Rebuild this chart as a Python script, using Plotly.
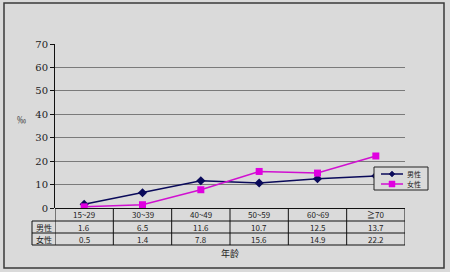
import plotly.graph_objects as go

categories = ["15~29", "30~39", "40~49", "50~59", "60~69", "≧70"]
male = [1.6, 6.5, 11.6, 10.7, 12.5, 13.7]
female = [0.5, 1.4, 7.8, 15.6, 14.9, 22.2]
series_names = ["男性", "女性"]
series_colors = ["#0a0a5a", "#e000e0"]
y_ticks = [0, 10, 20, 30, 40, 50, 60, 70]

W, H = 450, 272
L, R, T, B = 55, 45, 44, 64
PH = H - T - B  # plot height px
PW = W - L - R

def py(px):  # pixel y -> paper
    return (H - B - px) / PH

def pxx(px):  # pixel x -> paper
    return (px - L) / PW

FONT = "Noto Sans CJK SC, DejaVu Serif, serif"
x_idx = list(range(len(categories)))

fig = go.Figure()
fig.add_trace(go.Scatter(x=x_idx, y=male, name=series_names[0], mode="lines+markers",
                         line=dict(color=series_colors[0], width=1.5),
                         marker=dict(symbol="diamond", size=7, color=series_colors[0]),
                         showlegend=False))
fig.add_trace(go.Scatter(x=x_idx, y=female, name=series_names[1], mode="lines+markers",
                         line=dict(color="#d010d0", width=1.5),
                         marker=dict(symbol="square", size=7, color=series_colors[1]),
                         showlegend=False))

shapes = []
# outer border
shapes.append(dict(type="rect", xref="paper", yref="paper",
                   x0=pxx(4), x1=pxx(444), y0=py(268), y1=py(3),
                   line=dict(color="#3a3a3a", width=1.5)))
# table lines
row_lines = [221, 233, 245]
for ry in row_lines:
    shapes.append(dict(type="line", xref="paper", yref="paper",
                       x0=pxx(32), x1=1, y0=py(ry), y1=py(ry),
                       line=dict(color="#111", width=1)))
shapes.append(dict(type="line", xref="paper", yref="paper",
                   x0=pxx(32), x1=pxx(32), y0=py(221), y1=py(245),
                   line=dict(color="#111", width=1)))
for i in range(len(categories) + 1):
    xb = i - 0.5
    shapes.append(dict(type="line", xref="x", yref="paper",
                       x0=xb, x1=xb, y0=0, y1=py(245),
                       line=dict(color="#111", width=1)))

# legend (drawn as layout decoration)
shapes.append(dict(type="rect", xref="paper", yref="paper",
                   x0=pxx(374), x1=pxx(428), y0=py(190), y1=py(167),
                   fillcolor="#dadada", line=dict(color="#222", width=1), layer="above"))
leg_rows = [174, 184]
for k, ry in enumerate(leg_rows):
    col = series_colors[k] if k == 0 else "#d010d0"
    shapes.append(dict(type="line", xref="paper", yref="paper",
                       x0=pxx(381), x1=pxx(403), y0=py(ry), y1=py(ry),
                       line=dict(color=col, width=1.5), layer="above"))
cx = 392
# diamond
shapes.append(dict(type="path", xref="paper", yref="paper", layer="above",
                   path=f"M {pxx(cx-3)} {py(174)} L {pxx(cx)} {py(171)} L {pxx(cx+3)} {py(174)} L {pxx(cx)} {py(177)} Z",
                   fillcolor=series_colors[0], line=dict(color=series_colors[0], width=0.5)))
# square
shapes.append(dict(type="rect", xref="paper", yref="paper", layer="above",
                   x0=pxx(cx-3), x1=pxx(cx+3), y0=py(187), y1=py(181),
                   fillcolor=series_colors[1], line=dict(color=series_colors[1], width=0.5)))

annotations = []
def ann(x, y, text, size=8, xref="paper", color="#222"):
    annotations.append(dict(x=x, y=y, xref=xref, yref="paper", text=text, showarrow=False,
                            xanchor="center", yanchor="middle",
                            font=dict(size=size, color=color, family=FONT)))

for i, c in enumerate(categories):
    ann(i, py(214.5), c, xref="x")
    ann(i, py(227), f"{male[i]:.1f}", xref="x")
    ann(i, py(239), f"{female[i]:.1f}", xref="x")
ann(pxx(43.5), py(227), series_names[0])
ann(pxx(43.5), py(239), series_names[1])
ann(pxx(230), py(253), "年龄", size=9)
ann(pxx(21), py(119), "‰", size=9, color="#333")
for k, ry in enumerate(leg_rows):
    annotations.append(dict(x=pxx(405), y=py(ry), xref="paper", yref="paper", text=series_names[k],
                            showarrow=False, xanchor="left", yanchor="middle",
                            font=dict(size=7, color="#222", family=FONT)))

fig.update_layout(
    width=W, height=H,
    margin=dict(l=L, r=R, t=T, b=B),
    paper_bgcolor="#dadada", plot_bgcolor="#dadada",
    font=dict(family=FONT, color="#222"),
    showlegend=False,
    xaxis=dict(range=[-0.5, len(categories) - 0.5], showgrid=False, showticklabels=False,
               zeroline=False, showline=False, ticks="", fixedrange=True),
    yaxis=dict(range=[0, 70], tickvals=y_ticks, showgrid=True, gridcolor="#7a7a7a",
               gridwidth=1, zeroline=True, zerolinecolor="#111", zerolinewidth=1,
               showline=True, linecolor="#111", linewidth=1,
               ticks="outside", ticklen=4, tickcolor="#111",
               tickfont=dict(size=10, color="#222", family="DejaVu Serif, serif")),
    shapes=shapes, annotations=annotations,
)

fig.write_html("out.html")
